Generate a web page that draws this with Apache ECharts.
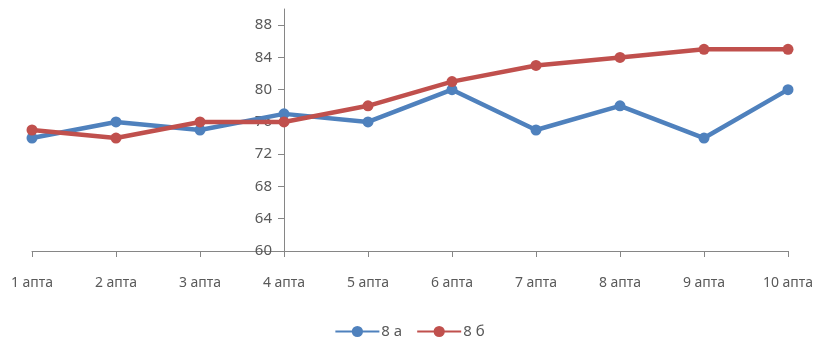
<!DOCTYPE html>
<html>
<head>
<meta charset="utf-8">
<script src="https://cdn.jsdelivr.net/npm/echarts@6/dist/echarts.min.js"></script>
<style>
  html, body { margin: 0; padding: 0; background: #fff; }
  #chart { width: 819px; height: 341px; }
</style>
</head>
<body>
<div id="chart"></div>
<script>
// Weekly results of two classes
const weeks = ['1 апта', '2 апта', '3 апта', '4 апта', '5 апта', '6 апта', '7 апта', '8 апта', '9 апта', '10 апта'];
const class8a = [74, 76, 75, 77, 76, 80, 75, 78, 74, 80];
const class8b = [75, 74, 76, 76, 78, 81, 83, 84, 85, 85];
const yTicks = [60, 64, 68, 72, 76, 80, 84, 88];

const gridLeft = 32, gridRight = 31;
const chartWidth = 819;
const plotWidth = chartWidth - gridLeft - gridRight;
// y axis crosses the category axis at the 4th week
const crossIndex = 3;
const yOffset = -plotWidth * crossIndex / (weeks.length - 1);

const font = '"Noto Sans", sans-serif';
const axisColor = '#868686';
const textColor = '#595959';

const chart = echarts.init(document.getElementById('chart'));
chart.setOption({
  animation: false,
  grid: { left: gridLeft, right: gridRight, top: 9, bottom: 90, containLabel: false },
  xAxis: {
    type: 'category',
    data: weeks,
    boundaryGap: false,
    axisLine: { lineStyle: { color: axisColor, width: 1 } },
    axisTick: { show: true, length: 6, inside: false, lineStyle: { color: axisColor } },
    axisLabel: { color: textColor, fontSize: 14, fontFamily: font, margin: 25, interval: 0 },
    splitLine: { show: false }
  },
  yAxis: {
    type: 'value',
    min: 60,
    max: 90,
    interval: 4,
    offset: yOffset,
    axisLine: { show: true, lineStyle: { color: axisColor, width: 1 } },
    axisTick: { show: true, length: 6, customValues: yTicks, lineStyle: { color: axisColor } },
    axisLabel: { color: textColor, fontSize: 15, fontFamily: font, margin: 12, customValues: yTicks },
    splitLine: { show: false }
  },
  legend: {
    bottom: -3,
    left: 'center',
    itemWidth: 44,
    itemHeight: 14,
    itemGap: 14,
    textStyle: { color: textColor, fontSize: 15, fontFamily: font, padding: [0, 0, 0, -3] },
    data: ['8 а', '8 б']
  },
  series: [
    {
      name: '8 а',
      type: 'line',
      data: class8a,
      symbol: 'circle',
      symbolSize: 11,
      lineStyle: { color: '#4F81BD', width: 4.5 },
      itemStyle: { color: '#4F81BD' }
    },
    {
      name: '8 б',
      type: 'line',
      data: class8b,
      symbol: 'circle',
      symbolSize: 11,
      lineStyle: { color: '#C0504D', width: 4.5 },
      itemStyle: { color: '#C0504D' }
    }
  ]
});
</script>
</body>
</html>
